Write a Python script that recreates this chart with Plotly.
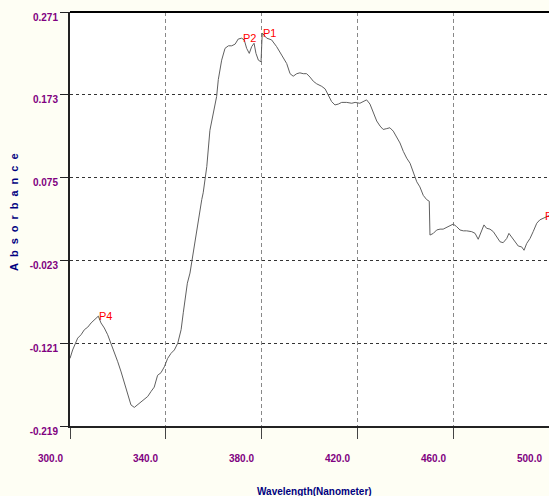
import plotly.graph_objects as go

# ---- data ----
wavelength = [300.0, 301.1, 303.2, 304.6, 306.0, 307.4, 308.8, 310.1, 311.8, 312.9,
              314.3, 315.7, 317.1, 318.5, 319.9, 321.3, 322.6, 324.0, 325.4, 326.8,
              328.2, 329.6, 331.0, 332.4, 333.8, 335.1, 336.5, 337.9, 339.3, 340.7,
              342.1, 343.5, 344.9, 346.3, 347.2, 347.9, 348.9, 350.0, 350.7, 352.1,
              353.5, 354.9, 355.5, 357.0, 358.3, 359.7, 361.1, 361.8, 363.2, 364.6,
              366.0, 367.4, 368.8, 370.1, 371.5, 372.6, 373.6, 374.7, 375.7, 376.7,
              377.5, 378.5, 379.6, 380.1, 382.0, 384.0, 386.1, 388.2, 390.3, 391.7,
              393.0, 394.5, 395.8, 397.2, 398.6, 400.0, 401.4, 402.8, 404.9, 406.3,
              407.6, 409.0, 410.4, 411.8, 413.2, 415.3, 417.4, 418.8, 420.8, 422.2,
              423.6, 425.0, 426.4, 427.8, 429.2, 430.5, 432.0, 433.3, 434.7, 436.1,
              437.5, 438.9, 440.3, 441.7, 443.0, 444.5, 445.8, 447.2, 448.6, 449.7,
              450.0, 451.4, 452.8, 454.2, 455.5, 457.6, 459.7, 461.1, 462.5, 463.9,
              465.3, 467.4, 468.8, 470.1, 471.5, 472.5, 473.6, 475.0, 476.4, 477.8,
              479.2, 480.5, 482.0, 482.9, 484.0, 485.4, 486.8, 488.2, 489.2, 490.3,
              491.7, 493.0, 494.5, 495.8, 497.2, 498.6, 499.6]

absorbance = [-0.139, -0.129, -0.115, -0.111, -0.105, -0.102, -0.097, -0.094, -0.089, -0.097,
              -0.103, -0.111, -0.121, -0.131, -0.143, -0.155, -0.168, -0.182, -0.194, -0.197,
              -0.194, -0.190, -0.187, -0.184, -0.178, -0.173, -0.159, -0.156, -0.149, -0.139,
              -0.133, -0.129, -0.121, -0.105, -0.085, -0.070, -0.050, -0.038, -0.025, 0.001,
              0.025, 0.049, 0.057, 0.088, 0.131, 0.151, 0.171, 0.191, 0.214, 0.228,
              0.231, 0.231, 0.233, 0.239, 0.240, 0.238, 0.228, 0.222, 0.230, 0.234,
              0.222, 0.214, 0.212, 0.246, 0.240, 0.238, 0.230, 0.220, 0.210, 0.198,
              0.195, 0.198, 0.199, 0.198, 0.198, 0.194, 0.189, 0.186, 0.183, 0.180,
              0.173, 0.165, 0.161, 0.162, 0.164, 0.164, 0.163, 0.164, 0.163, 0.165,
              0.167, 0.162, 0.153, 0.142, 0.136, 0.132, 0.133, 0.134, 0.130, 0.123,
              0.116, 0.106, 0.098, 0.092, 0.082, 0.070, 0.064, 0.054, 0.049, 0.047,
              0.007, 0.009, 0.013, 0.014, 0.014, 0.017, 0.020, 0.017, 0.013, 0.012,
              0.012, 0.011, 0.009, 0.002, 0.013, 0.019, 0.015, 0.014, 0.011, 0.005,
              -0.001, -0.002, 0.003, 0.009, 0.005, -0.001, -0.006, -0.007, -0.011, -0.003,
              0.003, 0.011, 0.021, 0.025, 0.027, 0.029, 0.030]

y_tick_values = [0.271, 0.173, 0.075, -0.023, -0.121, -0.219]
x_tick_values = [300, 340, 380, 420, 460, 500]
x_grid_values = [340, 380, 420, 460]

peak_names = ["P1", "P2", "P4", "P3"]
peak_wavelength = [380.1, 371.5, 311.8, 497.5]
peak_absorbance = [0.246, 0.240, -0.089, 0.029]

x_min, x_max = 300.0, 499.6
y_min, y_max = -0.219, 0.271

TICK_COLOR = "#800080"
TITLE_COLOR = "#000080"
FONT = "Liberation Sans, Arial, sans-serif"

fig = go.Figure()

fig.add_trace(go.Scatter(
    x=wavelength, y=absorbance, mode="lines",
    line=dict(color="#606060", width=1),
    hoverinfo="skip", showlegend=False,
))

annotations = []
for name, wx, wy in zip(peak_names, peak_wavelength, peak_absorbance):
    annotations.append(dict(
        x=wx, y=wy, xref="x", yref="y", text=name, showarrow=False,
        xanchor="left", yanchor="middle", xshift=-1,
        font=dict(family=FONT, size=11, color="#ff0000"),
    ))

for v in x_tick_values:
    annotations.append(dict(
        x=(v - x_min) / (x_max - x_min), y=0, xref="paper", yref="paper",
        text=f"{v:.1f}", showarrow=False, xanchor="center", yanchor="top",
        xshift=-20, yshift=-25,
        font=dict(family=FONT, size=10, color=TICK_COLOR, weight="bold"),
    ))

annotations.append(dict(
    x=0.5, y=0, xref="paper", yref="paper", text="Wavelength(Nanometer)",
    showarrow=False, xanchor="center", yanchor="top", yshift=-58, xshift=5,
    font=dict(family=FONT, size=10, color=TITLE_COLOR, weight="bold"),
))
annotations.append(dict(
    x=0, y=0.5, xref="paper", yref="paper", text="Absorbance",
    showarrow=False, xanchor="center", yanchor="middle", xshift=-56, yshift=10,
    textangle=-90,
    font=dict(family=FONT, size=11, color=TITLE_COLOR, weight="bold"),
))

fig.update_layout(
    width=549, height=496,
    margin=dict(l=70, r=0, t=12, b=70),
    paper_bgcolor="#fefef4",
    plot_bgcolor="#ffffff",
    showlegend=False,
    annotations=annotations,
    shapes=[dict(type="line", xref="paper", yref="paper", x0=0, x1=1, y0=1, y1=1,
                 line=dict(color="#000000", width=2))],
    xaxis=dict(
        range=[x_min, x_max], tickvals=[300, 340, 380, 420, 460],
        showticklabels=False, ticks="outside", ticklen=11, tickcolor="#444444",
        showgrid=False, zeroline=False,
        showline=True, linecolor="#222222", linewidth=2,
    ),
    xaxis2=dict(
        range=[x_min, x_max], overlaying="x", tickvals=x_grid_values,
        showticklabels=False, ticks="", showgrid=True, gridcolor="#888888",
        griddash="4px,3px", gridwidth=1, zeroline=False, showline=False,
        matches="x",
    ),
    yaxis=dict(
        range=[y_min, y_max], tickvals=y_tick_values,
        ticktext=[f"{v:.3f}" for v in y_tick_values],
        ticks="outside", ticklen=8, tickcolor="#222222",
        showgrid=True, gridcolor="#333333", griddash="dot", gridwidth=1,
        zeroline=False, showline=True, linecolor="#222222", linewidth=2,
        ticklabelshift=5,
        tickfont=dict(family=FONT, size=10, color=TICK_COLOR, weight="bold"),
    ),
)

# invisible trace on xaxis2 so the dashed vertical grid is drawn
fig.add_trace(go.Scatter(x=[x_min], y=[y_min], xaxis="x2", mode="markers",
                         marker=dict(opacity=0), hoverinfo="skip", showlegend=False))

post = (
    "document.body.style.margin='0';"
    "document.querySelectorAll('.annotation-text').forEach(function(t){"
    "if(t.textContent==='Absorbance'){t.style.letterSpacing='6px';}});"
)
fig.write_html("out.html", post_script=post, config={"displayModeBar": False})
